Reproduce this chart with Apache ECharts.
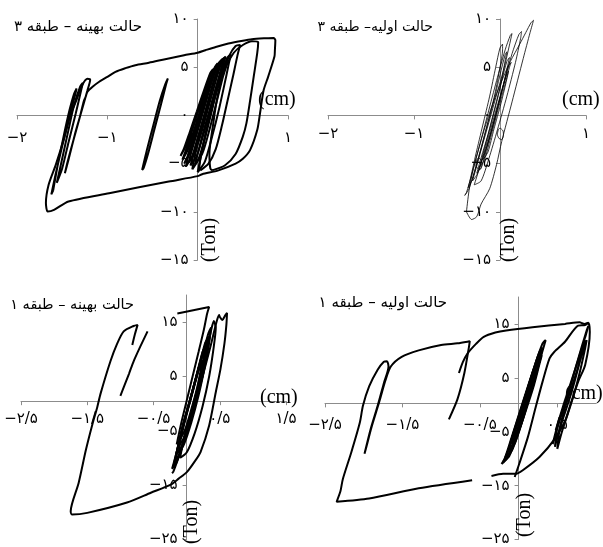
<!DOCTYPE html>
<html>
<head>
<meta charset="utf-8">
<script src="https://cdn.jsdelivr.net/npm/echarts@6/dist/echarts.min.js"></script>
<style>
  html, body { margin: 0; padding: 0; background: #fff; }
  #chart { width: 603px; height: 547px; }
</style>
</head>
<body>
<div id="chart"></div>
<script>
// panel titles
const titles = ['حالت بهینه – طبقه ۳', 'حالت اولیه– طبقه ۳', 'حالت بهینه – طبقه ۱', 'حالت اولیه – طبقه ۱'];

// tick values per panel
const xTicks = [[-2, -1, 0, 1], [-2, -1, 0, 1], [-2.5, -1.5, -0.5, 0.5, 1.5], [-2.5, -1.5, -0.5, 0.5]];
const xLabels = [[-2, -1, 1], [-2, -1, 1], [-2.5, -1.5, -0.5, 0.5, 1.5], [-2.5, -1.5, -0.5, 0.5]];
const yTicks = [[-15, -10, -5, 0, 5, 10], [-15, -10, -5, 0, 5, 10], [-25, -15, -5, 5, 15], [-25, -15, -5, 5, 15]];

// ---- panel 1 : optimal, storey 3 (cm , Ton)
const p1Outer = [[-1.24,1.9],[-1.22,2.45],[-1.16,3.0],[-1.09,3.49],[-1.0,4.0],[-0.91,4.52],[-0.8,4.9],[-0.69,5.21],[-0.54,5.46],[-0.36,5.83],[-0.15,6.24],[0.0,6.5],[0.085,6.76],[0.2,7.1],[0.34,7.45],[0.5,7.75],[0.6,7.9],[0.75,8.0],[0.84,8.04],[0.86,7.8],[0.855,6.8],[0.85,6.1],[0.78,4.0],[0.73,2.6],[0.69,0.2],[0.66,-1.5],[0.58,-3.6],[0.5,-4.5],[0.42,-5.0],[0.23,-5.7],[0.05,-6.1],[0,-6.3],[-0.32,-6.86],[-0.98,-8.07],[-1.43,-8.93],[-1.59,-9.8],[-1.66,-9.97],[-1.68,-9.1],[-1.65,-7.2],[-1.57,-5.1],[-1.48,-2.4],[-1.41,0],[-1.35,1.4],[-1.28,3.1],[-1.22,3.8],[-1.19,3.7],[-1.22,2.6],[-1.29,0.3],[-1.37,-2.4],[-1.44,-4.8],[-1.47,-6.0],[-1.43,-4.6],[-1.36,-2.0],[-1.3,0.0],[-1.26,1.5],[-1.24,1.9]];
const p1Left = [[-1.6,-7.8],[-1.55,-5.2],[-1.48,-2.0],[-1.42,0.5],[-1.37,2.2],[-1.34,2.8],[-1.36,2.0],[-1.42,-0.2],[-1.5,-3.2],[-1.57,-6.0],[-1.62,-8.2],[-1.6,-7.8]];
const p1Left2 = [[-1.56,-7.0],[-1.5,-4.5],[-1.43,-1.5],[-1.37,1.0],[-1.3,3.0],[-1.27,3.4],[-1.29,2.6],[-1.35,0.2],[-1.43,-2.8],[-1.5,-5.5],[-1.56,-7.0]];
const p1Mid = [[-0.615,-5.66],[-0.56,-3.5],[-0.49,-1.0],[-0.42,1.5],[-0.36,3.2],[-0.33,3.83],[-0.35,3.2],[-0.41,1.0],[-0.48,-1.5],[-0.55,-4.0],[-0.6,-5.5],[-0.615,-5.66]];
const p1LoopA = [[0.03,-5.7],[0.12,-5.0],[0.2,-3.5],[0.27,-1.0],[0.33,1.5],[0.39,4.0],[0.44,6.2],[0.47,7.3],[0.42,7.2],[0.35,6.2],[0.27,4.2],[0.18,1.5],[0.1,-1.5],[0.04,-4.0],[0.02,-5.3],[0.03,-5.7]];
const p1LoopB = [[0.16,-5.7],[0.3,-5.2],[0.42,-4.0],[0.5,-2.2],[0.54,-0.8],[0.58,1.5],[0.62,4.0],[0.66,6.5],[0.67,7.6],[0.6,7.7],[0.5,7.3],[0.4,6.5],[0.3,4.8],[0.22,2.0],[0.17,-1.0],[0.13,-4.0],[0.14,-5.5],[0.16,-5.7]];
const p1Loop1 = [[-0.17,-4.6],[-0.11,-3.6],[-0.04,-1.6],[0.04,0.8],[0.12,3.0],[0.18,4.5],[0.2,5.0],[0.16,4.6],[0.09,2.8],[0.01,0.6],[-0.07,-1.8],[-0.13,-3.6],[-0.17,-4.6]];
const p1Loop2 = [[-0.13,-5.3],[-0.06,-4.2],[0.01,-2.0],[0.09,0.6],[0.17,3.3],[0.23,5.0],[0.25,5.6],[0.21,5.2],[0.13,3.2],[0.05,0.8],[-0.03,-1.8],[-0.1,-4.0],[-0.13,-5.3]];
const p1Loop3 = [[-0.1,-4.9],[-0.03,-3.8],[0.05,-1.5],[0.13,1.2],[0.21,3.9],[0.26,5.4],[0.28,5.9],[0.24,5.5],[0.16,3.6],[0.08,1.0],[0.0,-1.6],[-0.07,-3.8],[-0.1,-4.9]];
const p1Loop4 = [[-0.06,-5.6],[0.01,-4.5],[0.09,-2.0],[0.17,1.0],[0.24,3.8],[0.29,5.5],[0.31,6.1],[0.27,5.7],[0.19,3.8],[0.11,1.0],[0.03,-1.8],[-0.03,-4.2],[-0.06,-5.6]];
const p1Loop5 = [[-0.03,-5.1],[0.05,-4.0],[0.13,-1.5],[0.21,1.4],[0.28,4.0],[0.32,5.2],[0.33,5.6],[0.29,5.2],[0.22,3.4],[0.14,0.8],[0.06,-1.8],[0.0,-4.0],[-0.03,-5.1]];
const p1Loop6 = [[0.0,-5.9],[0.08,-4.8],[0.16,-2.2],[0.24,0.8],[0.31,3.8],[0.35,5.6],[0.37,6.3],[0.33,6.0],[0.25,4.0],[0.17,1.2],[0.09,-1.8],[0.03,-4.5],[0.0,-5.9]];
const p1Loop7 = [[-0.15,-5.0],[-0.09,-4.0],[-0.02,-2.0],[0.06,0.6],[0.14,3.2],[0.2,4.9],[0.22,5.4],[0.19,5.0],[0.12,3.0],[0.04,0.5],[-0.04,-2.0],[-0.11,-4.2],[-0.15,-5.0]];
const p1Loop8 = [[-0.08,-5.2],[-0.01,-4.2],[0.07,-1.8],[0.15,1.0],[0.23,3.8],[0.28,5.6],[0.3,6.0],[0.26,5.6],[0.18,3.6],[0.1,0.8],[0.02,-1.8],[-0.05,-4.2],[-0.08,-5.2]];
const p1Loop9 = [[-0.19,-4.2],[-0.13,-3.2],[-0.06,-1.2],[0.02,1.0],[0.1,3.2],[0.15,4.4],[0.17,4.8],[0.14,4.4],[0.07,2.6],[-0.01,0.4],[-0.09,-1.8],[-0.15,-3.4],[-0.19,-4.2]];

// ---- panel 2 : initial, storey 3
const p2Loop1 = [[-0.39,-10.0],[-0.33,-10.8],[-0.27,-10.5],[-0.22,-9.2],[-0.12,-7.6],[-0.04,-5.1],[0.02,-2.7],[0.14,1.4],[0.27,5.9],[0.35,8.6],[0.39,9.87],[0.36,9.6],[0.3,8.6],[0.23,7.4],[0.12,5.6],[0.04,4.0],[-0.06,1.8],[-0.155,-0.65],[-0.24,-3.2],[-0.31,-5.5],[-0.36,-7.8],[-0.39,-10.0]];
const p2Loop2 = [[-0.41,-8.3],[-0.36,-7.6],[-0.27,-5.0],[-0.17,-2.0],[-0.06,1.5],[0.05,5.0],[0.11,7.3],[0.14,8.5],[0.12,8.3],[0.06,6.8],[-0.04,3.6],[-0.14,0.2],[-0.24,-3.2],[-0.33,-6.2],[-0.39,-8.0],[-0.41,-8.3]];
const p2Loop3 = [[-0.37,-7.5],[-0.32,-6.6],[-0.24,-4.0],[-0.15,-1.0],[-0.06,2.2],[0.0,5.0],[0.03,6.8],[0.03,7.4],[0.0,7.0],[-0.05,5.0],[-0.12,2.0],[-0.2,-1.0],[-0.28,-4.0],[-0.34,-6.4],[-0.37,-7.5]];
const p2Loop4 = [[-0.32,-6.8],[-0.26,-6.0],[-0.18,-3.4],[-0.09,-0.4],[0.0,2.8],[0.05,5.2],[0.08,6.6],[0.06,6.3],[0.0,4.2],[-0.08,1.2],[-0.17,-1.8],[-0.25,-4.6],[-0.32,-6.8]];
const p2Loop5 = [[-0.27,-6.0],[-0.21,-5.2],[-0.13,-2.6],[-0.04,0.4],[0.04,3.2],[0.09,5.2],[0.11,6.0],[0.08,5.6],[0.02,3.6],[-0.06,0.8],[-0.14,-2.0],[-0.22,-4.4],[-0.27,-6.0]];
const p2Loop6 = [[-0.24,-5.4],[-0.18,-4.6],[-0.1,-2.0],[-0.01,1.0],[0.07,3.6],[0.11,5.0],[0.13,5.5],[0.1,5.1],[0.04,3.2],[-0.04,0.4],[-0.12,-2.2],[-0.19,-4.2],[-0.24,-5.4]];
const p2Loop7 = [[-0.2,-4.6],[-0.14,-3.8],[-0.07,-1.4],[0.01,1.2],[0.07,3.4],[0.1,4.6],[0.08,4.3],[0.02,2.4],[-0.05,0.0],[-0.13,-2.6],[-0.2,-4.6]];
const p2Loop8 = [[-0.3,-7.2],[-0.22,-6.8],[-0.13,-4.5],[-0.03,-1.5],[0.08,2.0],[0.18,5.5],[0.24,8.0],[0.25,8.7],[0.22,8.4],[0.14,6.4],[0.04,3.2],[-0.07,-0.2],[-0.17,-3.4],[-0.25,-5.8],[-0.3,-7.2]];
const p2Ring1 = [[0.0,-1.3],[0.035,-1.6],[0.04,-2.1],[0.02,-2.5],[-0.01,-2.4],[-0.03,-2.0],[-0.02,-1.5],[0.0,-1.3]];
const p2Ring2 = [[-0.25,-4.4],[-0.215,-4.7],[-0.21,-5.2],[-0.23,-5.6],[-0.26,-5.5],[-0.28,-5.1],[-0.27,-4.6],[-0.25,-4.4]];

// ---- panel 3 : optimal, storey 1
const p3Outer = [[-0.82,10.8],[-0.78,12.8],[-0.74,14.5],[-0.8,14.3],[-0.95,13.3],[-1.05,11.0],[-1.15,7.8],[-1.3,1.8],[-1.35,-0.7],[-1.42,-3.7],[-1.52,-8.5],[-1.63,-14.6],[-1.75,-19.8],[-1.73,-20.4],[-1.5,-20.1],[-0.9,-18.2],[-0.54,-16.4],[-0.24,-14.9],[-0.12,-13.8],[0.01,-12.5],[0.13,-10.5],[0.21,-8.9],[0.34,-4.0],[0.44,2.1],[0.51,6.3],[0.57,11.0],[0.6,14.5],[0.61,16.7],[0.58,16.2],[0.54,15.4],[0.5,16.0],[0.49,16.3],[0.45,15.0],[0.36,10.5],[0.24,5.0],[0.1,-1.0],[-0.04,-6.5],[-0.14,-10.5],[-0.2,-12.5],[-0.22,-12.8]];
const p3Tail = [[-1.0,1.45],[-0.87,5.5],[-0.8,7.8],[-0.7,10.5],[-0.59,13.3]];
const p3Top = [[-0.14,16.6],[0.1,17.2],[0.34,17.8],[0.31,16.6],[0.26,13.6],[0.18,9.5],[0.11,6.0],[0.02,1.5],[-0.08,-3.5],[-0.15,-7.5]];
const p3Loop1 = [[-0.2,-11.5],[-0.12,-9.8],[0.0,-5.5],[0.12,-0.5],[0.24,5.0],[0.32,10.0],[0.36,13.0],[0.37,14.0],[0.33,13.0],[0.24,9.0],[0.12,3.8],[0.0,-1.5],[-0.1,-6.5],[-0.17,-10.0],[-0.2,-11.5]];
const p3Loop2 = [[-0.16,-9.5],[-0.08,-8.0],[0.03,-4.0],[0.14,1.0],[0.24,6.0],[0.3,10.0],[0.32,12.0],[0.28,11.2],[0.2,7.5],[0.09,2.5],[-0.02,-2.5],[-0.11,-6.8],[-0.16,-9.5]];
const p3Loop3 = [[-0.13,-8.0],[-0.05,-6.5],[0.05,-2.5],[0.15,2.2],[0.23,6.5],[0.27,9.5],[0.28,10.5],[0.24,9.5],[0.16,5.8],[0.06,1.0],[-0.04,-3.5],[-0.1,-6.5],[-0.13,-8.0]];
const p3Loop4 = [[-0.18,-10.5],[-0.1,-9.0],[0.01,-5.0],[0.13,0.0],[0.23,5.0],[0.29,9.0],[0.31,11.0],[0.27,10.2],[0.18,6.5],[0.07,1.5],[-0.05,-3.8],[-0.13,-7.8],[-0.18,-10.5]];
const p3Loop5 = [[-0.1,-6.5],[-0.03,-5.0],[0.06,-1.5],[0.15,2.5],[0.21,6.0],[0.24,8.0],[0.21,7.4],[0.13,4.0],[0.04,0.0],[-0.05,-3.5],[-0.1,-6.5]];
const p3Loop6 = [[-0.1,-10.0],[0.0,-9.0],[0.12,-5.5],[0.24,-0.5],[0.34,5.0],[0.41,10.5],[0.44,14.0],[0.41,15.2],[0.37,13.5],[0.29,9.0],[0.18,3.5],[0.06,-2.0],[-0.04,-6.5],[-0.1,-10.0]];
const p3Loop7 = [[-0.12,-9.0],[-0.04,-7.5],[0.07,-3.5],[0.18,1.5],[0.27,6.5],[0.33,10.5],[0.35,12.5],[0.31,11.8],[0.22,8.0],[0.11,3.0],[0.0,-2.0],[-0.08,-6.0],[-0.12,-9.0]];
const p3Loop8 = [[-0.22,-12.0],[-0.15,-10.8],[-0.04,-7.0],[0.08,-2.0],[0.19,3.5],[0.27,8.5],[0.3,11.0],[0.26,10.0],[0.16,5.5],[0.04,0.0],[-0.08,-5.5],[-0.17,-9.8],[-0.22,-12.0]];

// ---- panel 4 : initial, storey 1
const p4Left = [[-0.6,-14.0],[-1.29,-15.5],[-1.93,-17.4],[-2.35,-18.0],[-2.3,-16.0],[-2.27,-13.8],[-2.16,-8.8],[-2.05,-3.3],[-2.01,-0.2],[-1.93,3.4],[-1.82,6.5],[-1.74,8.0],[-1.7,8.1],[-1.68,7.1],[-1.74,4.0],[-1.82,-0.2],[-1.91,-4.5],[-1.99,-9.1],[-1.96,-7.5],[-1.9,-4.2],[-1.8,0.5],[-1.72,4.5],[-1.65,7.1],[-1.51,8.9],[-1.29,10.1],[-1.0,11.1],[-0.79,11.4],[-0.66,11.7],[-0.63,11.8],[-0.64,10.8],[-0.7,5.9],[-0.79,1.0],[-0.9,-2.7]];
const p4Top = [[-0.77,5.9],[-0.72,7.9],[-0.66,9.5],[-0.55,11.3],[-0.45,12.6],[-0.3,13.4],[-0.16,13.8],[0.18,14.4],[0.6,15.0],[0.79,15.3],[0.81,15.2],[0.85,15.0],[0.9,15.2],[0.92,13.5],[0.86,7.4],[0.77,4.3],[0.67,0.05],[0.6,-3.0],[0.48,-6.1],[0.27,-9.7],[0.05,-12.2],[-0.03,-12.8],[-0.2,-12.8],[-0.35,-13.2]];
const p4Inner = [[0.9,15.2],[0.86,14.8],[0.77,14.7],[0.6,11.7],[0.46,9.8],[0.4,8.6],[0.31,4.3],[0.22,-0.5],[0.12,-6.0],[0.01,-10.9],[-0.05,-13.4]];
const p4Right1 = [[0.44,-7.3],[0.5,-4.0],[0.58,-0.5],[0.66,3.0],[0.74,7.0],[0.82,11.0],[0.88,13.8],[0.9,14.6],[0.87,13.0],[0.78,9.0],[0.7,5.0],[0.62,1.0],[0.54,-2.5],[0.47,-5.8],[0.44,-7.3]];
const p4Right2 = [[0.47,-7.8],[0.53,-4.5],[0.61,-1.0],[0.69,2.6],[0.76,6.3],[0.83,10.5],[0.86,12.0],[0.83,11.0],[0.74,7.0],[0.65,3.0],[0.57,-0.5],[0.5,-4.0],[0.47,-7.8]];
const p4Right3 = [[0.5,-8.2],[0.56,-5.0],[0.64,-1.5],[0.72,2.2],[0.79,6.0],[0.86,10.5],[0.88,12.0],[0.85,11.0],[0.77,7.0],[0.68,3.0],[0.6,-0.5],[0.53,-4.5],[0.5,-8.2]];
const p4Loop1 = [[-0.2,-10.6],[-0.12,-9.5],[-0.02,-5.5],[0.08,-1.0],[0.18,3.5],[0.27,8.0],[0.33,11.0],[0.35,12.0],[0.31,11.4],[0.22,7.8],[0.12,3.2],[0.02,-1.5],[-0.08,-6.0],[-0.16,-9.6],[-0.2,-10.6]];
const p4Loop2 = [[-0.16,-9.6],[-0.08,-8.3],[0.02,-4.2],[0.12,0.5],[0.21,5.0],[0.27,8.6],[0.29,9.8],[0.25,9.0],[0.16,5.0],[0.06,0.5],[-0.04,-4.0],[-0.12,-7.8],[-0.16,-9.6]];
const p4Loop3 = [[-0.13,-8.5],[-0.05,-7.2],[0.05,-3.0],[0.14,1.5],[0.22,5.8],[0.26,8.2],[0.23,7.6],[0.14,3.8],[0.04,-0.8],[-0.06,-5.0],[-0.13,-8.5]];
const p4Loop4 = [[-0.22,-11.0],[-0.15,-10.0],[-0.06,-6.5],[0.04,-2.0],[0.14,2.5],[0.22,6.5],[0.25,8.0],[0.2,6.8],[0.1,2.5],[0.0,-2.0],[-0.1,-6.5],[-0.18,-10.0],[-0.22,-11.0]];
const p4Loop5 = [[-0.1,-7.0],[-0.02,-5.6],[0.07,-1.8],[0.16,2.5],[0.24,6.5],[0.29,9.0],[0.26,8.4],[0.17,4.8],[0.07,0.5],[-0.03,-3.8],[-0.1,-7.0]];
const p4Loop6 = [[-0.18,-10.0],[-0.1,-8.8],[0.0,-4.8],[0.1,-0.3],[0.2,4.2],[0.28,8.6],[0.31,10.6],[0.27,9.8],[0.18,5.8],[0.08,1.2],[-0.02,-3.5],[-0.11,-7.6],[-0.18,-10.0]];
const p4Loop7 = [[-0.07,-6.0],[0.01,-4.5],[0.1,-0.8],[0.19,3.2],[0.26,7.0],[0.3,9.2],[0.27,8.6],[0.19,5.0],[0.1,1.0],[0.0,-3.0],[-0.07,-6.0]];

const panels = [
  [p1Outer, p1Left, p1Left2, p1Mid, p1LoopA, p1LoopB, p1Loop1, p1Loop2, p1Loop3, p1Loop4, p1Loop5, p1Loop6, p1Loop7, p1Loop8, p1Loop9],
  [p2Loop1, p2Loop2, p2Loop3, p2Loop4, p2Loop5, p2Loop6, p2Loop7, p2Loop8, p2Ring1, p2Ring2],
  [p3Outer, p3Tail, p3Top, p3Loop1, p3Loop2, p3Loop3, p3Loop4, p3Loop5, p3Loop6, p3Loop7, p3Loop8],
  [p4Left, p4Top, p4Inner, p4Right1, p4Right2, p4Right3, p4Loop1, p4Loop2, p4Loop3, p4Loop4, p4Loop5, p4Loop6, p4Loop7]
];
const lineWidths = [2, 0.8, 2, 2];

const grids = [
  { left: 17, top: 19, width: 271, height: 241 },
  { left: 328, top: 19, width: 258, height: 241 },
  { left: 21, top: 295, width: 265, height: 249 },
  { left: 325, top: 297, width: 271, height: 245 }
];
const xRange = [[-2, 1], [-2, 1], [-2.5, 1.5], [-2.5, 1]];
const yRange = [[-15, 10], [-15, 10], [-25, 20], [-25, 20]];
const xMargin = [15, 11, 10, 14];

const fa = v => String(v).replace('-', '−').replace('.', '/').replace(/\d/g, d => '۰۱۲۳۴۵۶۷۸۹'[d]);
const axisGrey = '#8c8c8c';
const font = 'DejaVu Sans, "Liberation Serif", serif';

// axes cross at zero: shift them from the grid edge by the zero position
const xAxis = grids.map((g, i) => ({
  type: 'value', gridIndex: i, min: xRange[i][0], max: xRange[i][1], position: 'bottom',
  offset: -(0 - yRange[i][0]) / (yRange[i][1] - yRange[i][0]) * g.height,
  splitLine: { show: false },
  axisLine: { onZero: false, lineStyle: { color: axisGrey, width: 1 } },
  axisTick: { length: 4, lineStyle: { color: axisGrey }, customValues: xTicks[i] },
  axisLabel: { customValues: xLabels[i], formatter: fa, color: '#000', fontSize: 15, fontFamily: font, margin: xMargin[i] }
}));
const yAxis = grids.map((g, i) => ({
  type: 'value', gridIndex: i, min: yRange[i][0], max: yRange[i][1], position: 'left',
  offset: -(0 - xRange[i][0]) / (xRange[i][1] - xRange[i][0]) * g.width,
  splitLine: { show: false },
  axisLine: { onZero: false, lineStyle: { color: axisGrey, width: 1 } },
  axisTick: { length: 4, lineStyle: { color: axisGrey }, customValues: yTicks[i] },
  axisLabel: { customValues: yTicks[i], formatter: fa, color: '#000', fontSize: 15, fontFamily: font, margin: 9 }
}));

const series = [];
panels.forEach((segs, i) => {
  segs.forEach(seg => {
    series.push({
      type: 'line', xAxisIndex: i, yAxisIndex: i, data: seg,
      showSymbol: false, smooth: 0.25, silent: true,
      lineStyle: { color: '#000', width: lineWidths[i] }
    });
  });
});

// text positions: title right edge, (cm), (Ton)
const titlePos = [[142, 27], [433, 27], [134, 305], [447, 303]];
const titleSize = [15, 14, 14.5, 15];
const cmPos = [[258, 100], [562, 100], [260, 398], [565, 394]];
const tonPos = [[210, 240], [509, 240], [192, 522], [525, 515]];
const graphic = [];
titles.forEach((t, i) => {
  graphic.push({ type: 'text', x: titlePos[i][0], y: titlePos[i][1], z: 10,
    style: { text: t, fill: '#000', font: titleSize[i] + 'px DejaVu Sans', align: 'right', verticalAlign: 'middle' } });
  graphic.push({ type: 'text', x: cmPos[i][0], y: cmPos[i][1], z: 10,
    style: { text: '(cm)', fill: '#000', font: '20px "Liberation Serif"', align: 'left', verticalAlign: 'middle' } });
  graphic.push({ type: 'text', x: tonPos[i][0], y: tonPos[i][1], rotation: Math.PI / 2, z: 10,
    style: { text: '(Ton)', fill: '#000', font: '20px "Liberation Serif"', align: 'center', verticalAlign: 'middle' } });
});

const myChart = echarts.init(document.getElementById('chart'));
myChart.setOption({
  backgroundColor: '#fff',
  animation: false,
  grid: grids,
  xAxis: xAxis,
  yAxis: yAxis,
  series: series,
  graphic: graphic
});
</script>
</body>
</html>
